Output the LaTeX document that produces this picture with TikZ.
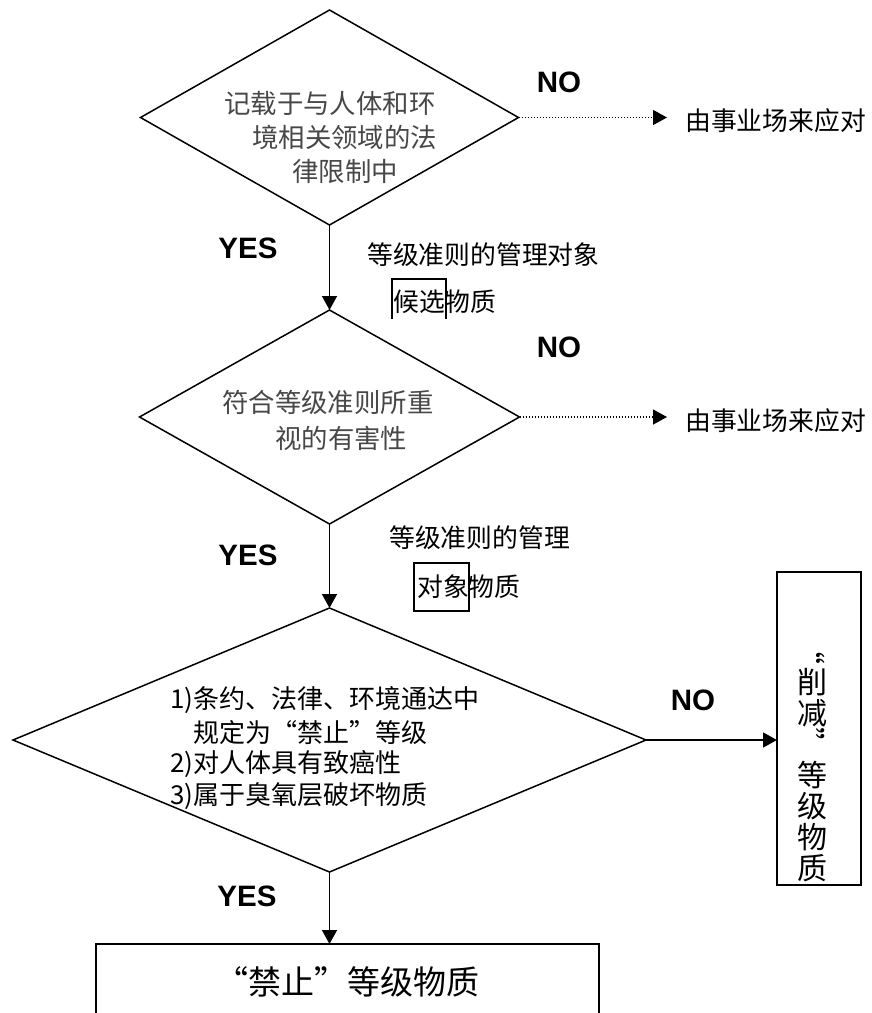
\documentclass[tikz,border=0pt]{standalone}
\usepackage{fontspec}
\setmainfont{Liberation Sans}
\newfontfamily\cjk{Noto Sans CJK SC}
\usetikzlibrary{shapes.geometric,arrows.meta}
\begin{document}
\begin{tikzpicture}[x=1pt,y=-1pt,
  dia/.style={draw,shape=diamond,inner sep=0pt,outer sep=0pt,line width=1.5pt},
  boxline/.style={draw,line width=1.6pt,inner sep=0pt,outer sep=0pt},
  arr/.style={line width=1.5pt,-{Triangle[length=14pt,width=15pt]}},
  dotarr/.style={line width=1.2pt,dash pattern=on 1.2pt off 1.8pt,-{Triangle[length=14pt,width=15pt]}},
  yn/.style={font=\fontsize{29.5}{30}\selectfont\bfseries,inner sep=0pt},
  dtxt/.style={font=\cjk\fontsize{26.4}{30}\selectfont,text=black!72,inner sep=0pt,anchor=west},
  ctxt/.style={font=\cjk\fontsize{26}{30}\selectfont,inner sep=0pt,anchor=west},
  ltxt/.style={font=\cjk\fontsize{25.8}{30}\selectfont,inner sep=0pt,anchor=west}]
\useasboundingbox (0,0) rectangle (872,1013);
% diamonds
\node[dia,minimum width=378pt,minimum height=215pt] (d1) at (329.5,117.5) {};
\node[dia,minimum width=380pt,minimum height=214pt] (d2) at (329.5,417) {};
\node[dia,minimum width=633pt,minimum height=264pt] (d3) at (329.5,740) {};
% diamond texts
\node[dtxt] (t1a) at (224,103) {记载于与人体和环};
\node[dtxt] (t1b) at (252,137) {境相关领域的法};
\node[dtxt] (t1c) at (292,171) {律限制中};
\node[dtxt] (t2a) at (222,402) {符合等级准则所重};
\node[dtxt] (t2b) at (275,438) {视的有害性};
\node[ctxt] (t3a) at (170,700) {1)条约、法律、环境通达中};
\node[ctxt] (t3b) at (193,733) {规定为“禁止”等级};
\node[ctxt] (t3c) at (170,764) {2)对人体具有致癌性};
\node[ctxt] (t3d) at (170,796) {3)属于臭氧层破坏物质};
% labels between diamonds
\node[ltxt] (l1a) at (367,255) {等级准则的管理对象};
\node[ltxt] (l1b) at (393,302) {候选物质};
\draw[line width=1.5pt] (392,319) -- (392,279) -- (446,279) -- (446,319);
\node[ltxt] (l2a) at (389,538) {等级准则的管理};
\node[ltxt] (l2b) at (417,587) {对象物质};
\draw[line width=1.5pt] (414,563) rectangle (469,611);
% outside responses
\coordinate (e1) at (667,117.5);
\coordinate (e2) at (667,417);
\node[ltxt] (r1) at (685,121) {由事业场来应对};
\node[ltxt] (r2) at (685,421) {由事业场来应对};
% result boxes
\node[boxline,minimum width=503pt,minimum height=76pt] (ban) at (347.5,982)
  {\cjk\fontsize{33}{36}\selectfont “禁止”等级物质};
\node[boxline,minimum width=84pt,minimum height=313pt] (red) at (819,728.5) {};
\node[font=\cjk\fontsize{30}{31}\selectfont,align=center,inner sep=0pt] (redt) at (812,758)
  {\rotatebox[origin=c]{-90}{“}\\削\\减\\\rotatebox[origin=c]{-90}{”}\\等\\级\\物\\质};
% labels
\node[yn] (no1) at (559,82) {NO};
\node[yn] (no2) at (559,347) {NO};
\node[yn] (no3) at (693,700) {NO};
\node[yn] (yes1) at (248,248) {YES};
\node[yn] (yes2) at (248,555) {YES};
\node[yn] (yes3) at (247,896) {YES};
% connectors
\draw[arr] (d1.south) -- (d2.north);
\draw[arr] (d2.south) -- (d3.north);
\draw[arr] (d3.south) -- (d3.south |- ban.north);
\draw[arr] (d3.east) -- (d3.east -| red.west);
\draw[dotarr] (d1.east) -- (e1);
\draw[dotarr] (d2.east) -- (e2);
\end{tikzpicture}
\end{document}
